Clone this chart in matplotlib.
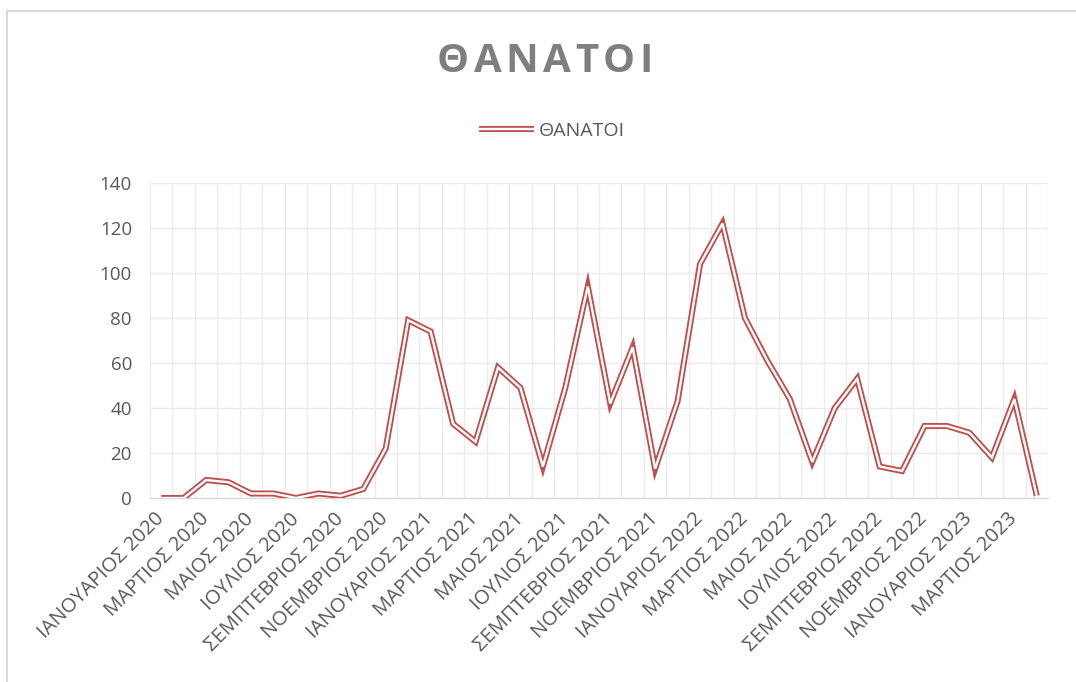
import matplotlib
matplotlib.use("Agg")
import matplotlib.pyplot as plt
from matplotlib.lines import Line2D
from matplotlib.patches import Rectangle

plt.rcParams['font.family'] = ['Open Sans', 'DejaVu Sans']

# data
minas = ["ΙΑΝΟΥΑΡΙΟΣ", "ΦΕΒΡΟΥΑΡΙΟΣ", "ΜΑΡΤΙΟΣ", "ΑΠΡΙΛΙΟΣ", "ΜΑΙΟΣ", "ΙΟΥΝΙΟΣ",
         "ΙΟΥΛΙΟΣ", "ΑΥΓΟΥΣΤΟΣ", "ΣΕΜΠΤΕΒΡΙΟΣ", "ΟΚΤΩΒΡΙΟΣ", "ΝΟΕΜΒΡΙΟΣ", "ΔΕΚΕΜΒΡΙΟΣ"]
xronia = [2020, 2021, 2022, 2023]
kathgories = [m + " " + str(y) for y in xronia for m in minas][:40]
thanatoi = [0, 0, 8, 7, 2, 2, 0, 2, 1, 4, 22, 79,
            74, 33, 25, 58, 49, 14, 49, 94, 42, 67, 13, 43,
            104, 122, 80, 61, 44, 16, 40, 53, 14, 12, 32, 32,
            29, 18, 44, 1]
y_ticks = [0, 20, 40, 60, 80, 100, 120, 140]

kokkino = "#C0504D"
gkri = "#595959"

fig = plt.figure(figsize=(10.76, 6.82), dpi=100)
ax = fig.add_axes([150/1076, 1-498/682, 898/1076, 315/682])

x = list(range(len(thanatoi)))
ax.plot(x, thanatoi, color=kokkino, lw=4.4, solid_joinstyle='miter', solid_capstyle='butt', zorder=3)
ax.plot(x, thanatoi, color="white", lw=1.7, solid_joinstyle='miter', solid_capstyle='butt', zorder=4)

ax.set_xlim(-0.5, len(thanatoi) - 0.5)
ax.set_ylim(0, 140)
ax.set_yticks(y_ticks)
ax.set_xticks(x[::2])
ax.set_xticklabels(kathgories[::2], rotation=45, ha='right', va='center', rotation_mode='anchor')
ax.set_xticks([i - 0.5 for i in range(len(thanatoi) + 1)], minor=True)
ax.tick_params(axis='both', which='both', length=0, labelcolor=gkri)
ax.tick_params(axis='x', pad=13, labelsize=14.5)
ax.tick_params(axis='y', pad=13, labelsize=13.5)
ax.grid(True, which='minor', axis='x', color="#ebebeb", lw=1.0)
ax.grid(True, which='major', axis='y', color="#ebebeb", lw=1.0)
ax.set_axisbelow(True)
for s in ['top', 'right', 'left']:
    ax.spines[s].set_visible(False)
ax.spines['bottom'].set_color("#d9d9d9")
ax.spines['bottom'].set_linewidth(1.0)

# titlos me araiwma grammatwn
titlos = "ΘΑΝΑΤΟΙ"
fig.canvas.draw()
r = fig.canvas.get_renderer()
kommatia = []
for c in titlos:
    t = fig.text(0, 0, c, fontsize=29, fontweight='bold', color="#7f7f7f", va='center', ha='left')
    kommatia.append((t, t.get_window_extent(r).width))
keno = 4.5
synolo = sum(w for _, w in kommatia) + keno * (len(titlos) - 1)
xpos = 545 - synolo / 2
for t, w in kommatia:
    t.set_position((xpos / 1076, 1 - 61/682))
    xpos += w + keno

# legend
h1 = Line2D([], [], color=kokkino, lw=4.4, solid_capstyle='butt')
h2 = Line2D([], [], color="white", lw=1.7, solid_capstyle='butt')
leg = fig.legend([(h1, h2)], ["ΘΑΝΑΤΟΙ"], loc='center', bbox_to_anchor=(552/1076, 1-131/682),
                 frameon=False, fontsize=14, handlelength=2.8, handletextpad=0.25)
for t in leg.get_texts():
    t.set_color(gkri)

# plaisio
fig.patches.append(Rectangle((7/1076, -0.1), 1.2, 1-11/682+0.1, transform=fig.transFigure,
                             fill=False, edgecolor="#d9d9d9", lw=1.5))

fig.savefig("out.png", dpi=100)
